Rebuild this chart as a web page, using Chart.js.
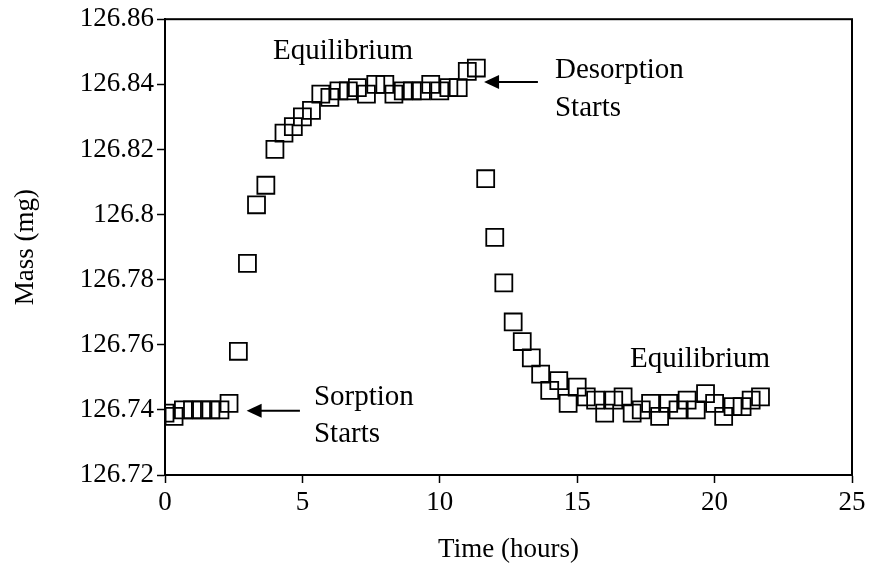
<!DOCTYPE html>
<html>
<head>
<meta charset="utf-8">
<script src="https://cdn.jsdelivr.net/npm/chart.js@4.4.1/dist/chart.umd.min.js"></script>
<style>
  html, body { margin: 0; padding: 0; background: #fff; }
</style>
</head>
<body>
<canvas id="chart" width="870" height="580"></canvas>
<script>
// time in hours (one reading every 20 min)
var timeHours = [0, 0.33, 0.67, 1, 1.33, 1.67, 2, 2.33, 2.67, 3, 3.33, 3.67, 4, 4.33, 4.67, 5,
    5.33, 5.67, 6, 6.33, 6.67, 7, 7.33, 7.67, 8, 8.33, 8.67, 9, 9.33, 9.67, 10, 10.33, 10.67,
    11, 11.33, 11.67, 12, 12.33, 12.67, 13, 13.33, 13.67, 14, 14.33, 14.67, 15, 15.33, 15.67,
    16, 16.33, 16.67, 17, 17.33, 17.67, 18, 18.33, 18.67, 19, 19.33, 19.67, 20, 20.33, 20.67,
    21, 21.33, 21.67];

// mass in mg
var massMg = [126.739, 126.738, 126.740, 126.740, 126.740, 126.740, 126.740, 126.742, 126.758,
    126.785, 126.803, 126.809, 126.820, 126.825, 126.827, 126.830, 126.832, 126.837, 126.836,
    126.838, 126.838, 126.839, 126.837, 126.840, 126.840, 126.837, 126.838, 126.838, 126.838,
    126.840, 126.838, 126.839, 126.839, 126.844, 126.845, 126.811, 126.793, 126.779, 126.767,
    126.761, 126.756, 126.751, 126.746, 126.749, 126.742, 126.747, 126.744, 126.743, 126.739,
    126.743, 126.744, 126.739, 126.740, 126.742, 126.738, 126.742, 126.740, 126.743, 126.740,
    126.745, 126.742, 126.738, 126.741, 126.741, 126.743, 126.744];

var xTicks = [0, 5, 10, 15, 20, 25];
var yTicks = [126.72, 126.74, 126.76, 126.78, 126.8, 126.82, 126.84, 126.86];

// text notes: [text, time, mass]
var notes = [
    ['Equilibrium', 3.93, 126.8477],
    ['Desorption', 14.19, 126.8419],
    ['Starts', 14.19, 126.8302],
    ['Sorption', 5.42, 126.7414],
    ['Starts', 5.42, 126.7301],
    ['Equilibrium', 16.92, 126.7531]
];

// arrows: [fromTime, toTime, mass]
var arrows = [
    [13.57, 11.61, 126.8407],
    [4.91, 2.97, 126.7397]
];

var serif = '"Liberation Serif", "Times New Roman", serif';
var fontSize = 27;
var noteSize = 29;

var points = timeHours.map(function (t, i) {
    return { x: t, y: massMg[i] };
});

var notesPlugin = {
    id: 'notes',
    afterDatasetsDraw: function (chart) {
        var ctx = chart.ctx;
        var xs = chart.scales.x;
        var ys = chart.scales.y;
        var area = chart.chartArea;

        ctx.save();
        ctx.strokeStyle = '#000';
        ctx.lineWidth = 2;
        ctx.strokeRect(area.left, area.top, area.right - area.left, area.bottom - area.top);

        ctx.fillStyle = '#000';
        ctx.font = noteSize + 'px ' + serif;
        ctx.textAlign = 'left';
        ctx.textBaseline = 'alphabetic';
        notes.forEach(function (n) {
            ctx.fillText(n[0], xs.getPixelForValue(n[1]), ys.getPixelForValue(n[2]));
        });

        arrows.forEach(function (a) {
            var x1 = xs.getPixelForValue(a[0]);
            var x2 = xs.getPixelForValue(a[1]);
            var y = ys.getPixelForValue(a[2]);
            ctx.lineWidth = 2;
            ctx.beginPath();
            ctx.moveTo(x1, y);
            ctx.lineTo(x2 + 12, y);
            ctx.stroke();
            ctx.beginPath();
            ctx.moveTo(x2, y);
            ctx.lineTo(x2 + 15, y - 7);
            ctx.lineTo(x2 + 15, y + 7);
            ctx.closePath();
            ctx.fill();
        });
        ctx.restore();
    }
};

new Chart(document.getElementById('chart').getContext('2d'), {
    type: 'scatter',
    data: {
        datasets: [{
            data: points,
            pointStyle: 'rect',
            pointRadius: 12,
            pointHoverRadius: 12,
            borderColor: '#000',
            backgroundColor: 'rgba(0,0,0,0)',
            borderWidth: 1.8,
            showLine: false
        }]
    },
    options: {
        responsive: false,
        animation: false,
        devicePixelRatio: 1,
        layout: { padding: { top: 18, right: 18, left: 0, bottom: 0 } },
        plugins: {
            legend: { display: false },
            tooltip: { enabled: false }
        },
        scales: {
            x: {
                type: 'linear',
                min: 0,
                max: 25,
                afterBuildTicks: function (s) {
                    s.ticks = xTicks.map(function (v) { return { value: v }; });
                },
                ticks: { color: '#000', font: { family: serif, size: fontSize }, padding: 4 },
                grid: { drawOnChartArea: false, drawTicks: true, tickLength: 8, tickColor: '#000', tickWidth: 1.5 },
                border: { color: '#000', width: 2 },
                title: { display: true, text: 'Time (hours)', color: '#000', font: { family: serif, size: fontSize }, padding: { top: 0, bottom: 14 } },
                afterFit: function (s) { s.height = 105; }
            },
            y: {
                type: 'linear',
                min: 126.72,
                max: 126.86,
                afterBuildTicks: function (s) {
                    s.ticks = yTicks.map(function (v) { return { value: v }; });
                },
                ticks: {
                    color: '#000',
                    font: { family: serif, size: fontSize },
                    padding: 3,
                    callback: function (v) { return parseFloat(v.toFixed(2)).toString(); }
                },
                grid: { drawOnChartArea: false, drawTicks: true, tickLength: 8, tickColor: '#000', tickWidth: 1.5 },
                border: { color: '#000', width: 2 },
                title: { display: true, text: 'Mass (mg)', color: '#000', font: { family: serif, size: fontSize }, padding: { top: 10, bottom: 0 } },
                afterFit: function (s) { s.width = 165; }
            }
        }
    },
    plugins: [notesPlugin]
});
</script>
</body>
</html>
